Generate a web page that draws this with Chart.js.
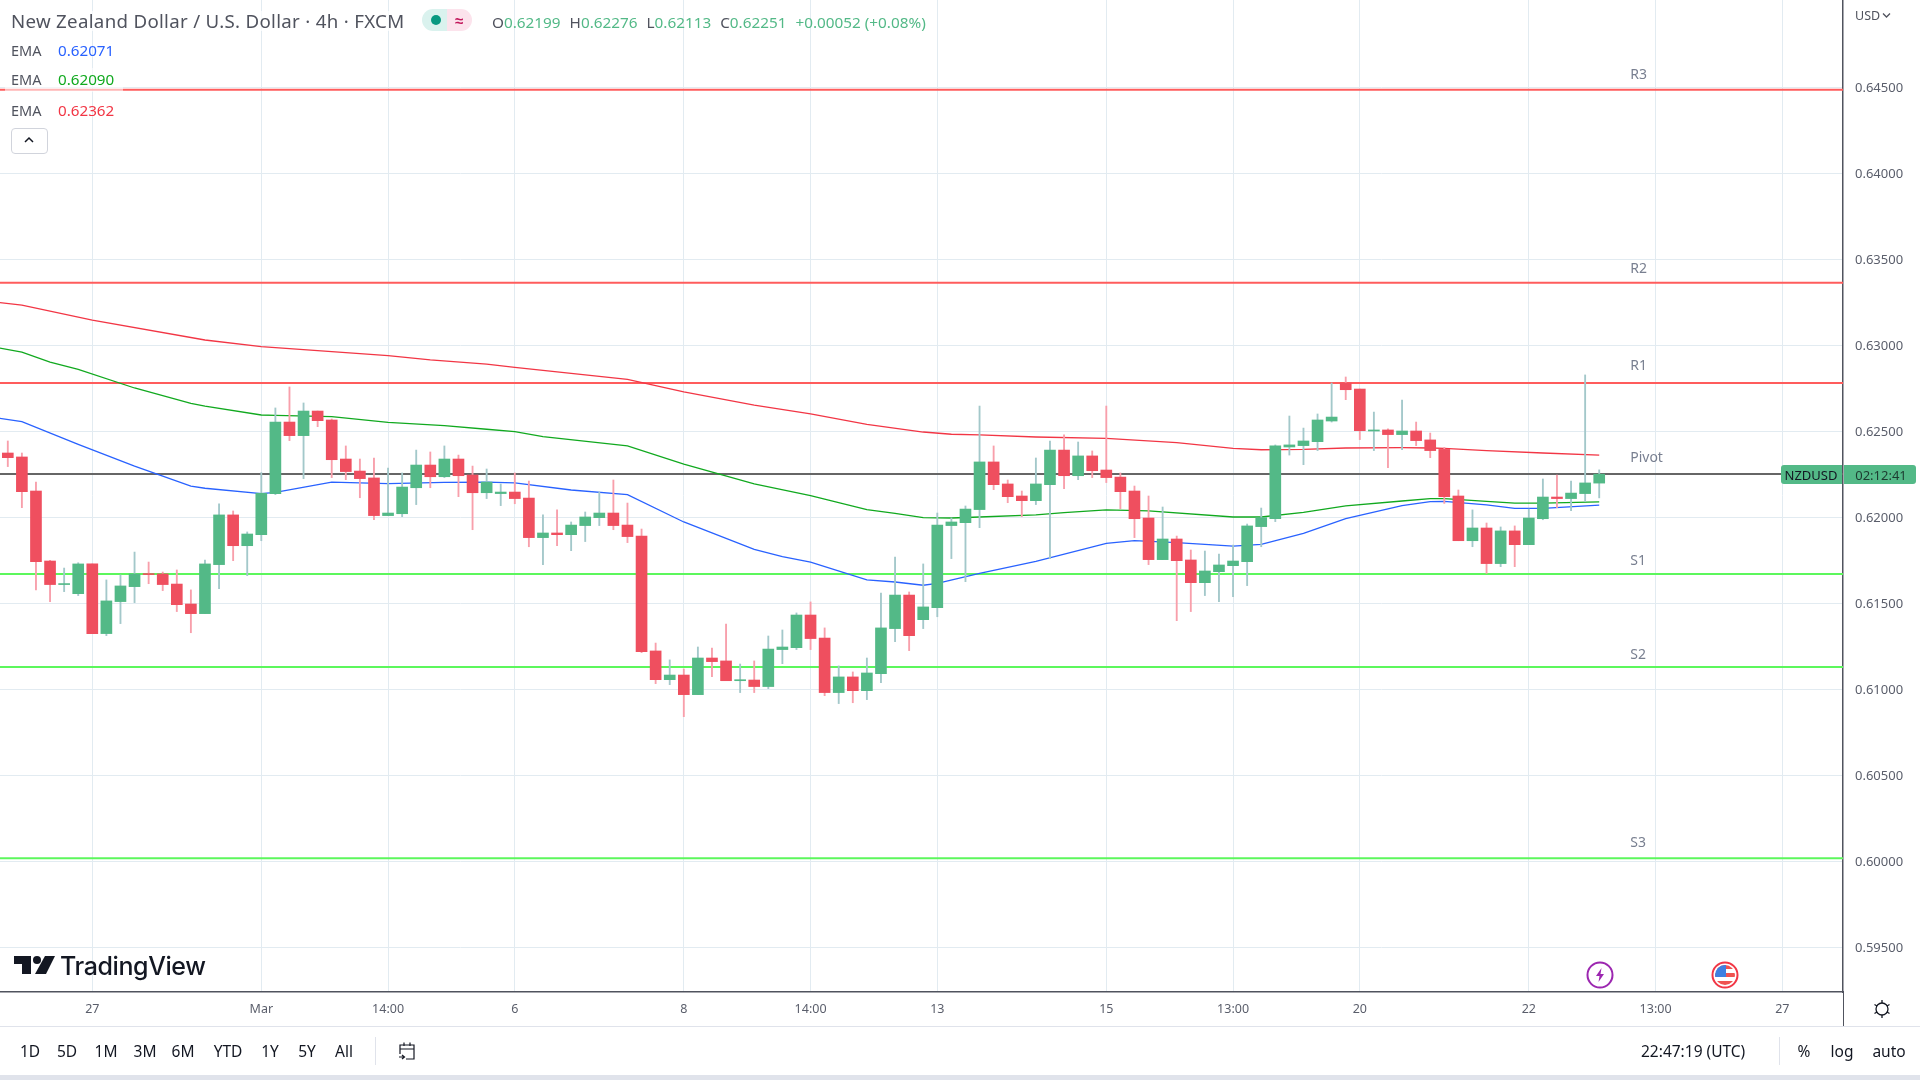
<!DOCTYPE html>
<html>
<head>
<meta charset="utf-8">
<title>NZDUSD 4h</title>
<script src="https://cdn.jsdelivr.net/npm/chart.js@4"></script>
<style>
  html, body { margin: 0; padding: 0; background: #fff; overflow: hidden; }
  body { width: 1920px; height: 1080px; position: relative; font-family: "Noto Sans", sans-serif; color: #50535e; }
  canvas { position: absolute; left: 0; top: 0; }
  .txt { position: absolute; white-space: nowrap; line-height: 20px; transform: translateY(-50%); }
  .box { position: absolute; }
  .mid { transform: translate(-50%, -50%); }
  .ohlc b { font-weight: 400; color: #53b987; margin-right: 9px; }
  svg { position: absolute; }
</style>
</head>
<body>
<canvas id="chart" width="1920" height="1080"></canvas>

<div class="box" style="left:5px;top:68px;width:118px;height:24px;background:rgba(255,255,255,.55)"></div>
<div class="txt" style="left:11px;top:21px;font-size:18.7px;letter-spacing:.3px;background:rgba(255,255,255,.7)">New Zealand Dollar / U.S. Dollar · 4h · FXCM</div>
<div class="box" style="left:422px;top:9px;width:25px;height:22px;background:#daf2ee;border-radius:11px 0 0 11px"></div>
<div class="box" style="left:447px;top:9px;width:25px;height:22px;background:#fce3ec;border-radius:0 11px 11px 0"></div>
<div class="box" style="left:431px;top:15px;width:10px;height:10px;border-radius:5px;background:#089981"></div>
<div class="txt mid" style="left:459px;top:20px;font-size:15px;font-weight:700;color:#c2185b">≈</div>
<div class="txt ohlc" style="left:492px;top:22px;font-size:15.3px">O<b>0.62199</b>H<b>0.62276</b>L<b>0.62113</b>C<b>0.62251</b><b>+0.00052 (+0.08%)</b></div>

<div class="txt" style="left:11px;top:50px;font-size:14.5px">EMA</div>
<div class="txt" style="left:58px;top:50px;font-size:15.2px;color:#2962ff">0.62071</div>
<div class="txt" style="left:11px;top:79px;font-size:14.5px">EMA</div>
<div class="txt" style="left:58px;top:79px;font-size:15.2px;color:#11a91f">0.62090</div>
<div class="txt" style="left:11px;top:110px;font-size:14.5px">EMA</div>
<div class="txt" style="left:58px;top:110px;font-size:15.2px;color:#f23645">0.62362</div>
<div class="box" style="left:11px;top:128px;width:35px;height:24px;border:1px solid #d1d4dc;border-radius:4px;background:#fff"></div>
<svg style="left:24px;top:136px" width="10" height="8" viewBox="0 0 10 8"><path d="M1 6 L5 2 L9 6" fill="none" stroke="#131722" stroke-width="1.5"/></svg>

<div class="txt" style="left:1855px;top:16px;font-size:12.5px">USD</div>
<svg style="left:1882px;top:12px" width="9" height="7" viewBox="0 0 9 7"><path d="M1 1.5 L4.5 5 L8 1.5" fill="none" stroke="#50535e" stroke-width="1.3"/></svg>

<div class="box" style="left:1781px;top:465px;width:61px;height:19px;background:#53b987;border-radius:3px 0 0 3px"></div>
<div class="box" style="left:1844px;top:465px;width:72px;height:19px;background:#53b987;border-radius:0 3px 3px 0"></div>
<div class="txt mid" style="left:1811px;top:475px;font-size:13px;color:#131722">NZDUSD</div>
<div class="txt mid" style="left:1881px;top:475px;font-size:13px;color:#1d3b30">02:12:41</div>

<svg style="left:14px;top:955px" width="41" height="20" viewBox="0 0 41 20"><path d="M0 1 H17 V19 H8 V9 H0 Z" fill="#131722"/><circle cx="23" cy="5" r="4" fill="#131722"/><path d="M31 1 H41 L32 19 H21 Z" fill="#131722"/></svg>
<div class="txt" style="left:60px;top:966px;font-size:25px;font-weight:500;color:#131722;letter-spacing:-.4px;font-family:Inter,sans-serif">TradingView</div>

<svg style="left:1586px;top:961px" width="28" height="28" viewBox="0 0 28 28"><circle cx="14" cy="14" r="12.5" fill="#fff" stroke="#9c27b0" stroke-width="2"/><path d="M15.5 7 L10 15 H13.5 L12.5 21 L18 13 H14.5 Z" fill="#9c27b0"/></svg>
<svg style="left:1711px;top:961px" width="28" height="28" viewBox="0 0 28 28"><circle cx="14" cy="14" r="12.5" fill="#fff" stroke="#f23645" stroke-width="2"/><clipPath id="flagClip"><circle cx="14" cy="14" r="10"/></clipPath><g clip-path="url(#flagClip)"><rect x="3" y="4" width="22" height="4" fill="#ef5350"/><rect x="3" y="12" width="22" height="4" fill="#ef5350"/><rect x="3" y="20" width="22" height="4" fill="#ef5350"/><rect x="3" y="4" width="12" height="12" fill="#3f7fe0"/></g></svg>

<div class="box" style="left:1843px;top:992px;width:1px;height:34px;background:#50535e"></div>
<svg style="left:1872px;top:999px" width="20" height="20" viewBox="0 0 20 20"><circle cx="10" cy="10" r="6" fill="none" stroke="#131722" stroke-width="1.3"/><path d="M10 1 V4 M10 16 V19 M2.5 5.5 L5 7 M15 13 L17.5 14.5 M2.5 14.5 L5 13 M15 7 L17.5 5.5" stroke="#131722" stroke-width="1.3"/></svg>

<div class="box" style="left:0;top:1026px;width:1920px;height:1px;background:#e0e3eb"></div>
<div class="box" style="left:0;top:1075px;width:1920px;height:5px;background:#e0e3eb"></div>
<div id="ranges"></div>
<div class="box" style="left:375px;top:1037px;width:1px;height:28px;background:#e0e3eb"></div>
<svg style="left:397px;top:1041px" width="20" height="20" viewBox="0 0 20 20"><path d="M3 13 V4 H17 V18 H9 M3 8 H17 M7 1.5 V5 M13 1.5 V5 M2 16 H7 M5 14 L7.5 16 L5 18" fill="none" stroke="#131722" stroke-width="1.2"/></svg>
<div class="txt" style="left:1641px;top:1051px;font-size:15.5px;color:#131722">22:47:19 (UTC)</div>
<div class="box" style="left:1779px;top:1037px;width:1px;height:28px;background:#e0e3eb"></div>
<div class="txt mid" style="left:1804px;top:1051px;font-size:15.5px;color:#131722">%</div>
<div class="txt mid" style="left:1842px;top:1051px;font-size:15.5px;color:#131722">log</div>
<div class="txt mid" style="left:1889px;top:1051px;font-size:15.5px;color:#131722">auto</div>

<script>
const candleOpen = [
  0.62374, 0.62351, 0.62153, 0.61746, 0.61609, 0.61556, 0.61729, 0.61324, 0.61510, 0.61597,
  0.61671, 0.61671, 0.61612, 0.61496, 0.61440, 0.61725, 0.62014, 0.61835, 0.61899, 0.62138,
  0.62554, 0.62475, 0.62618, 0.62566, 0.62339, 0.62269, 0.62229, 0.62010, 0.62021, 0.62172,
  0.62304, 0.62236, 0.62339, 0.62246, 0.62143, 0.62138, 0.62147, 0.62112, 0.61882, 0.61909,
  0.61899, 0.61952, 0.61998, 0.62025, 0.61955, 0.61891, 0.61223, 0.61056, 0.61083, 0.60969,
  0.61182, 0.61165, 0.61050, 0.61054, 0.61016, 0.61231, 0.61242, 0.61432, 0.61298, 0.60981,
  0.61072, 0.60992, 0.61091, 0.61353, 0.61548, 0.61405, 0.61475, 0.61952, 0.61969, 0.62045,
  0.62322, 0.62194, 0.62124, 0.62097, 0.62190, 0.62391, 0.62242, 0.62357, 0.62275, 0.62234,
  0.62153, 0.61996, 0.61754, 0.61874, 0.61752, 0.61620, 0.61684, 0.61719, 0.61742, 0.61946,
  0.61992, 0.62409, 0.62417, 0.62440, 0.62560, 0.62781, 0.62746, 0.62502, 0.62508, 0.62481,
  0.62502, 0.62450, 0.62395, 0.62124, 0.61864, 0.61938, 0.61731, 0.61921, 0.61841, 0.61992,
  0.62118, 0.62109, 0.62138, 0.62199
];
const candleHigh = [
  0.62444, 0.62374, 0.62205, 0.61750, 0.61705, 0.61736, 0.61729, 0.61636, 0.61665, 0.61798,
  0.61740, 0.61682, 0.61694, 0.61578, 0.61752, 0.62078, 0.62037, 0.61915, 0.62260, 0.62636,
  0.62758, 0.62665, 0.62618, 0.62572, 0.62415, 0.62339, 0.62345, 0.62287, 0.62258, 0.62391,
  0.62380, 0.62415, 0.62362, 0.62298, 0.62281, 0.62194, 0.62258, 0.62211, 0.62014, 0.62043,
  0.61973, 0.62031, 0.62147, 0.62217, 0.62083, 0.61932, 0.61269, 0.61171, 0.61118, 0.61246,
  0.61240, 0.61380, 0.61147, 0.61165, 0.61310, 0.61345, 0.61444, 0.61508, 0.61357, 0.61136,
  0.61101, 0.61182, 0.61560, 0.61769, 0.61566, 0.61729, 0.62025, 0.61996, 0.62066, 0.62647,
  0.62415, 0.62217, 0.62153, 0.62345, 0.62444, 0.62479, 0.62438, 0.62386, 0.62647, 0.62258,
  0.62182, 0.62124, 0.62060, 0.61891, 0.61810, 0.61804, 0.61787, 0.61839, 0.61961, 0.62054,
  0.62421, 0.62589, 0.62519, 0.62601, 0.62781, 0.62816, 0.62746, 0.62612, 0.62514, 0.62682,
  0.62554, 0.62490, 0.62407, 0.62159, 0.62043, 0.61967, 0.61944, 0.61950, 0.62048, 0.62223,
  0.62246, 0.62211, 0.62828, 0.62276
];
const candleLow = [
  0.62295, 0.62056, 0.61578, 0.61510, 0.61568, 0.61545, 0.61324, 0.61312, 0.61382, 0.61504,
  0.61614, 0.61574, 0.61452, 0.61329, 0.61440, 0.61585, 0.61748, 0.61661, 0.61864, 0.62132,
  0.62446, 0.62225, 0.62527, 0.62231, 0.62219, 0.62114, 0.61986, 0.62010, 0.62004, 0.62074,
  0.62172, 0.62231, 0.62120, 0.61928, 0.62109, 0.62068, 0.62079, 0.61829, 0.61725, 0.61835,
  0.61806, 0.61859, 0.61952, 0.61928, 0.61853, 0.61213, 0.61033, 0.61027, 0.60841, 0.60969,
  0.61074, 0.61050, 0.60981, 0.60981, 0.61004, 0.61149, 0.61231, 0.61231, 0.60963, 0.60917,
  0.60922, 0.60940, 0.61039, 0.61277, 0.61225, 0.61353, 0.61422, 0.61760, 0.61626, 0.61940,
  0.62161, 0.62085, 0.62004, 0.62074, 0.61760, 0.62167, 0.62219, 0.62231, 0.62202, 0.62050,
  0.61882, 0.61725, 0.61754, 0.61399, 0.61452, 0.61545, 0.61510, 0.61539, 0.61603, 0.61829,
  0.61975, 0.62362, 0.62306, 0.62388, 0.62554, 0.62684, 0.62452, 0.62388, 0.62289, 0.62393,
  0.62417, 0.62347, 0.62081, 0.61864, 0.61829, 0.61674, 0.61713, 0.61713, 0.61841, 0.61986,
  0.62056, 0.62039, 0.62091, 0.62113
];
const candleClose = [
  0.62347, 0.62149, 0.61742, 0.61609, 0.61612, 0.61729, 0.61324, 0.61514, 0.61601, 0.61671,
  0.61667, 0.61609, 0.61492, 0.61440, 0.61729, 0.62014, 0.61835, 0.61903, 0.62140, 0.62554,
  0.62475, 0.62618, 0.62562, 0.62335, 0.62266, 0.62225, 0.62010, 0.62025, 0.62176, 0.62304,
  0.62236, 0.62339, 0.62242, 0.62143, 0.62205, 0.62147, 0.62109, 0.61882, 0.61909, 0.61899,
  0.61955, 0.62002, 0.62025, 0.61952, 0.61888, 0.61219, 0.61056, 0.61083, 0.60969, 0.61182,
  0.61161, 0.61050, 0.61054, 0.61016, 0.61234, 0.61246, 0.61432, 0.61295, 0.60981, 0.61072,
  0.60992, 0.61095, 0.61357, 0.61548, 0.61312, 0.61479, 0.61955, 0.61973, 0.62048, 0.62322,
  0.62190, 0.62120, 0.62097, 0.62194, 0.62391, 0.62242, 0.62357, 0.62271, 0.62231, 0.62149,
  0.61992, 0.61754, 0.61874, 0.61748, 0.61620, 0.61688, 0.61723, 0.61746, 0.61950, 0.61998,
  0.62415, 0.62421, 0.62444, 0.62566, 0.62583, 0.62742, 0.62504, 0.62508, 0.62481, 0.62502,
  0.62446, 0.62388, 0.62120, 0.61864, 0.61938, 0.61731, 0.61921, 0.61841, 0.61996, 0.62118,
  0.62109, 0.62141, 0.62200, 0.62251
];

const emaBlueAt = [-1, 1, 5, 9, 13, 14, 18, 19, 23, 27, 31, 34, 36, 40, 44, 48, 53, 55, 57, 61, 63, 65, 66, 69, 73, 78, 80, 83, 87, 89, 92, 95, 99, 101, 102, 105, 107, 109, 113];
const emaBlue = [0.62581, 0.62556, 0.62424, 0.62298, 0.62182, 0.62169, 0.62138, 0.62145, 0.62205, 0.62196, 0.62203, 0.62205, 0.62200, 0.62159, 0.62132, 0.61973, 0.61814, 0.61771, 0.61740, 0.61636, 0.61624, 0.61605, 0.61616, 0.61674, 0.61744, 0.61849, 0.61864, 0.61853, 0.61833, 0.61843, 0.61907, 0.61992, 0.62068, 0.62091, 0.62093, 0.62072, 0.62052, 0.62052, 0.62071];

const emaGreenAt = [-1, 1, 3, 5, 9, 13, 14, 18, 19, 23, 27, 31, 34, 36, 38, 44, 48, 53, 57, 61, 63, 65, 67, 69, 73, 75, 78, 81, 87, 89, 92, 95, 99, 101, 102, 105, 107, 109, 113];
const emaGreen = [0.62990, 0.62961, 0.62903, 0.62860, 0.62752, 0.62663, 0.62647, 0.62595, 0.62593, 0.62585, 0.62552, 0.62533, 0.62512, 0.62498, 0.62469, 0.62415, 0.62310, 0.62194, 0.62126, 0.62045, 0.62023, 0.61998, 0.61996, 0.62002, 0.62014, 0.62027, 0.62043, 0.62037, 0.62002, 0.62002, 0.62029, 0.62066, 0.62095, 0.62109, 0.62109, 0.62093, 0.62083, 0.62083, 0.62090];

const emaRedAt = [-1, 1, 6, 14, 18, 27, 30, 34, 36, 44, 48, 53, 57, 61, 65, 67, 69, 73, 78, 83, 87, 89, 92, 95, 99, 101, 102, 105, 109, 113];
const emaRed = [0.63252, 0.63234, 0.63147, 0.63031, 0.62992, 0.62940, 0.62915, 0.62891, 0.62872, 0.62802, 0.62730, 0.62653, 0.62601, 0.62541, 0.62496, 0.62483, 0.62479, 0.62467, 0.62459, 0.62434, 0.62401, 0.62393, 0.62395, 0.62403, 0.62405, 0.62403, 0.62401, 0.62388, 0.62374, 0.62362];

const levelNames = ['R3', 'R2', 'R1', 'Pivot', 'S1', 'S2', 'S3'];
const levelValues = [0.64486, 0.63364, 0.62781, 0.62252, 0.61670, 0.61130, 0.60017];
const levelLabelValues = [0.64573, 0.63444, 0.62881, 0.62347, 0.61748, 0.61201, 0.60109];
const levelColors = ['#ff5c5c', '#ff5c5c', '#ff5c5c', '#666666', '#5cf75c', '#5cf75c', '#5cf75c'];

const priceTicks = [0.645, 0.64, 0.635, 0.63, 0.625, 0.62, 0.615, 0.61, 0.605, 0.6, 0.595];
const timeTickAt = [6, 18, 27, 36, 48, 57, 66, 78, 87, 96, 108, 117, 126];
const timeTickLabels = ['27', 'Mar', '14:00', '6', '8', '14:00', '13', '15', '13:00', '20', '22', '13:00', '27'];
const rangeButtons = ['1D', '5D', '1M', '3M', '6M', 'YTD', '1Y', '5Y', 'All'];
const rangeButtonX = [30, 67, 106, 145, 183, 228, 270, 307, 344];

const GREEN = '#53b987';
const RED = '#ef4f5f';
const WICK_GREEN = '#a3c8ca';
const WICK_RED = '#f89fab';
const FONT = '"Noto Sans", sans-serif';

const xMin = -0.554;
const xMax = 130.31;
const labelX = 115.2;

rangeButtons.forEach((label, i) => {
  const el = document.createElement('div');
  el.className = 'txt mid';
  el.style.cssText = `left:${rangeButtonX[i]}px;top:1051px;font-size:15.5px;color:#131722`;
  el.textContent = label;
  document.getElementById('ranges').appendChild(el);
});

const isUp = candleOpen.map((open, i) => candleClose[i] >= open);

function lineData(at, values) {
  return at.map((x, i) => ({ x, y: values[i] }));
}

function clearAxisPadding(axis) {
  axis.paddingLeft = 0;
  axis.paddingRight = 0;
  axis.paddingTop = 0;
  axis.paddingBottom = 0;
}

const levelDatasets = levelValues.map((value, i) => ({
  type: 'line',
  label: levelNames[i],
  data: [{ x: xMin, y: value }, { x: xMax, y: value }],
  borderColor: levelColors[i],
  borderWidth: 2,
  pointRadius: 0,
  order: 5,
}));

const emaDataset = (label, at, values, color) => ({
  type: 'line',
  label,
  data: lineData(at, values),
  borderColor: color,
  borderWidth: 1.3,
  pointRadius: 0,
  tension: 0,
  order: 4,
});

const levelLabels = {
  id: 'levelLabels',
  afterDatasetsDraw(chart) {
    const { ctx, scales } = chart;
    ctx.save();
    ctx.font = `14px ${FONT}`;
    ctx.fillStyle = '#787f90';
    ctx.textAlign = 'left';
    ctx.textBaseline = 'middle';
    levelNames.forEach((name, i) => {
      ctx.fillText(name, scales.x.getPixelForValue(labelX), scales.y.getPixelForValue(levelLabelValues[i]));
    });
    ctx.restore();
  },
};

new Chart(document.getElementById('chart'), {
  type: 'bar',
  data: {
    datasets: [
      {
        label: 'body',
        data: candleOpen.map((open, i) => ({ x: i, y: [open, candleClose[i]] })),
        backgroundColor: isUp.map((up) => (up ? GREEN : RED)),
        barThickness: 11,
        minBarLength: 1,
        grouped: false,
        order: 1,
      },
      {
        label: 'wick',
        data: candleLow.map((low, i) => ({ x: i, y: [low, candleHigh[i]] })),
        backgroundColor: isUp.map((up) => (up ? WICK_GREEN : WICK_RED)),
        barThickness: 1.2,
        grouped: false,
        order: 2,
      },
      emaDataset('EMA 20', emaBlueAt, emaBlue, '#2962ff'),
      emaDataset('EMA 50', emaGreenAt, emaGreen, '#11a91f'),
      emaDataset('EMA 200', emaRedAt, emaRed, '#f23645'),
      ...levelDatasets,
    ],
  },
  options: {
    responsive: false,
    animation: false,
    devicePixelRatio: 1,
    layout: { padding: { left: 0, right: 0, top: 0, bottom: 54 } },
    plugins: { legend: { display: false }, tooltip: { enabled: false } },
    scales: {
      x: {
        type: 'linear',
        offset: false,
        min: xMin,
        max: xMax,
        afterBuildTicks: (axis) => { axis.ticks = timeTickAt.map((value) => ({ value })); },
        afterFit: (axis) => { axis.height = 34; clearAxisPadding(axis); },
        grid: { color: '#e2ebf1', lineWidth: 1, drawTicks: false, offset: false },
        border: { color: '#50535e', width: 1.5 },
        ticks: {
          autoSkip: false,
          maxRotation: 0,
          padding: 10,
          color: '#5a5e6b',
          font: { family: FONT, size: 12.5 },
          callback: (value) => timeTickLabels[timeTickAt.indexOf(value)],
        },
      },
      y: {
        position: 'right',
        min: 0.59240,
        max: 0.65008,
        afterBuildTicks: (axis) => { axis.ticks = priceTicks.map((value) => ({ value })); },
        afterFit: (axis) => { axis.width = 77; clearAxisPadding(axis); },
        grid: { color: '#e2ebf1', lineWidth: 1, drawTicks: false },
        border: { color: '#50535e', width: 1.5 },
        ticks: {
          padding: 12,
          labelOffset: 1,
          color: '#5a5e6b',
          font: { family: FONT, size: 13 },
          callback: (value) => value.toFixed(5),
        },
      },
    },
  },
  plugins: [levelLabels],
});
</script>
</body>
</html>
